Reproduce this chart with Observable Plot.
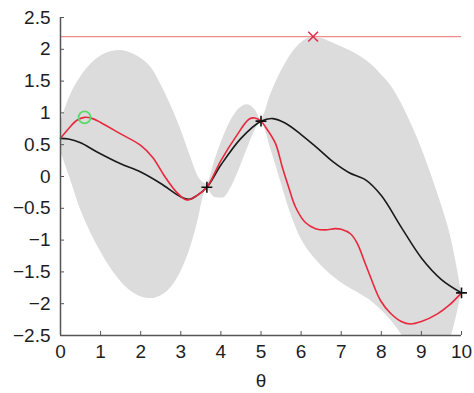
<!DOCTYPE html>
<html>
<head>
<meta charset="utf-8">
<script src="https://cdn.jsdelivr.net/npm/d3@7"></script>
<script src="https://cdn.jsdelivr.net/npm/@observablehq/plot@0.6"></script>
<style>
  html, body { margin: 0; padding: 0; background: #fff; }
  #chart svg { display: block; }
</style>
</head>
<body>
<div id="chart"></div>
<script>
// Posterior mean (black)
const meanTheta = [0, 0.2, 0.5, 0.9, 1.5, 2.0, 2.5, 3.0, 3.2, 3.4, 3.65, 4.0, 4.5, 5.0, 5.3, 5.6, 6.0, 6.4, 6.8, 7.2, 7.6, 8.0, 8.5, 9.0, 9.5, 10];
const meanValue = [0.6, 0.59, 0.53, 0.39, 0.2, 0.07, -0.11, -0.32, -0.36, -0.3, -0.17, 0.18, 0.6, 0.87, 0.91, 0.84, 0.66, 0.45, 0.23, 0.06, -0.05, -0.3, -0.8, -1.28, -1.62, -1.83];

// Sample / true function (red)
const redTheta = [0, 0.2, 0.4, 0.6, 0.8, 1.0, 1.5, 2.0, 2.3, 2.6, 2.9, 3.15, 3.4, 3.65, 4.0, 4.4, 4.7, 4.85, 5.0, 5.11, 5.36, 5.53, 5.69, 5.86, 6.1, 6.36, 6.6, 6.85, 7.0, 7.23, 7.4, 7.57, 7.73, 7.98, 8.23, 8.5, 8.73, 9.0, 9.4, 9.7, 10];
const redValue = [0.6, 0.75, 0.88, 0.93, 0.91, 0.85, 0.67, 0.49, 0.3, 0.0, -0.25, -0.37, -0.3, -0.17, 0.25, 0.65, 0.9, 0.92, 0.87, 0.78, 0.52, 0.15, -0.17, -0.48, -0.72, -0.82, -0.84, -0.82, -0.83, -0.9, -1.05, -1.32, -1.58, -1.95, -2.15, -2.28, -2.32, -2.28, -2.16, -2.02, -1.83];

// Confidence band (grey)
const bandTheta = [0, 0.25, 0.5, 0.75, 1.0, 1.25, 1.5, 1.75, 2.0, 2.25, 2.5, 2.75, 3.0, 3.25, 3.45, 3.57, 3.65,
                   3.85, 4.05, 4.25, 4.45, 4.65, 4.85, 5.0,
                   5.25, 5.5, 5.75, 6.0, 6.25, 6.5, 6.75, 7.0, 7.25, 7.5, 7.75, 8.0, 8.25, 8.5, 8.75, 9.0, 9.25, 9.5, 9.75, 10];
const bandHigh  = [0.85, 1.28, 1.56, 1.76, 1.89, 1.96, 1.98, 1.94, 1.86, 1.72, 1.45, 1.12, 0.74, 0.3, -0.02, -0.1, -0.12,
                   0.25, 0.6, 0.88, 1.06, 1.13, 1.05, 0.9,
                   1.3, 1.65, 1.92, 2.1, 2.18, 2.17, 2.11, 2.04, 1.97, 1.88, 1.76, 1.6, 1.42, 1.15, 0.82, 0.45, 0.02, -0.45, -1.0, -1.83];
const bandLow   = [0.4, -0.05, -0.52, -0.88, -1.18, -1.44, -1.65, -1.8, -1.89, -1.92, -1.88, -1.75, -1.5, -1.1, -0.64, -0.3, -0.2,
                   -0.33, -0.34, -0.18, 0.1, 0.42, 0.72, 0.85,
                   0.42, -0.1, -0.6, -0.98, -1.22, -1.4, -1.55, -1.67, -1.77, -1.86, -1.96, -2.1, -2.27, -2.48, -2.7, -2.85, -2.9, -2.8, -2.5, -1.83];

// Observations (black plus)
const obsTheta = [3.65, 5.0, 10];
const obsValue = [-0.17, 0.87, -1.83];

// Threshold line and its maximizer
const threshold = 2.2;
const maxTheta = [6.3];
const maxValue = [2.2];

// Next point (green circle)
const nextTheta = [0.6];
const nextValue = [0.93];

// Tick labels
const xTicks = [0, 1, 2, 3, 4, 5, 6, 7, 8, 9, 10];
const yTicks = [-2.5, -2, -1.5, -1, -0.5, 0, 0.5, 1, 1.5, 2, 2.5];

const band = bandTheta.map((t, i) => ({t, lo: bandLow[i], hi: bandHigh[i]}));
const mean = meanTheta.map((t, i) => ({t, v: meanValue[i]}));
const red = redTheta.map((t, i) => ({t, v: redValue[i]}));
const obs = obsTheta.map((t, i) => ({t, v: obsValue[i]}));
const mx = maxTheta.map((t, i) => ({t, v: maxValue[i]}));
const nx = nextTheta.map((t, i) => ({t, v: nextValue[i]}));

const fmt = d => (d < 0 ? "\u2212" : "") + Math.abs(d);

const chart = Plot.plot({
  width: 474,
  height: 393,
  marginLeft: 60,
  marginRight: 13,
  marginTop: 17,
  marginBottom: 58,
  style: {fontFamily: "'Liberation Sans', Arial, sans-serif", fontSize: "19px", color: "#1e1e1e", background: "#fff"},
  x: {domain: [0, 10]},
  y: {domain: [-2.5, 2.5]},
  marks: [
    Plot.areaY(band, {x: "t", y1: "lo", y2: "hi", fill: "#dcdcdc", curve: "monotone-x", clip: true}),
    Plot.ruleY([threshold], {x1: 0, x2: 10, stroke: "#ec8c8c", strokeWidth: 1.2}),
    Plot.line(mean, {x: "t", y: "v", stroke: "#1a1a1a", strokeWidth: 1.6, curve: "catmull-rom"}),
    Plot.line(red, {x: "t", y: "v", stroke: "#e8283c", strokeWidth: 1.6, curve: "catmull-rom"}),
    Plot.dot(nx, {x: "t", y: "v", r: 6, stroke: "#5ad86a", strokeWidth: 1.8, fill: "none"}),
    Plot.dot(obs, {x: "t", y: "v", symbol: "plus", r: 3.6, stroke: "#111", strokeWidth: 1.6}),
    Plot.dot(mx, {x: "t", y: "v", symbol: "times", r: 4.5, stroke: "#e0304a", strokeWidth: 1.6}),
    Plot.ruleX([0], {y1: -2.5, y2: 2.5, stroke: "#555", strokeWidth: 1.5}),
    Plot.ruleY([-2.5], {x1: 0, x2: 10, stroke: "#555", strokeWidth: 1.5}),
    Plot.axisX({ticks: xTicks, tickSize: -4, tickPadding: 13, tickFormat: fmt, stroke: "#555",
                label: "θ", labelAnchor: "center", labelArrow: "none", labelOffset: 51}),
    Plot.axisY({ticks: yTicks, tickSize: -4, tickPadding: 14, tickFormat: fmt, stroke: "#555", label: null})
  ]
});
document.getElementById("chart").appendChild(chart);
</script>
</body>
</html>
